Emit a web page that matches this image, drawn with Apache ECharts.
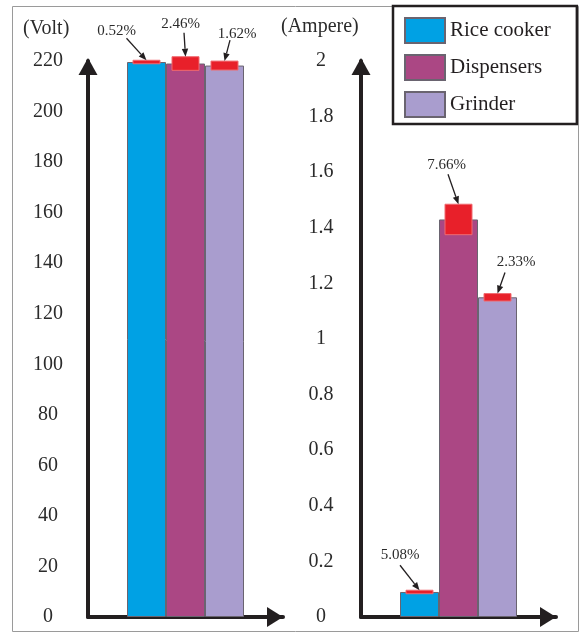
<!DOCTYPE html>
<html>
<head>
<meta charset="utf-8">
<script src="https://cdn.jsdelivr.net/npm/echarts@6/dist/echarts.min.js"></script>
<style>
html,body{margin:0;padding:0;background:#fff;}
#chart{width:581px;height:633px;}
</style>
</head>
<body>
<div id="chart"></div>
<script>
// ---- data ----
var appliances = ['Rice cooker', 'Dispensers', 'Grinder'];
var voltage = [219.6, 219.0, 218.2];          // Volt
var voltageErrPct = [0.52, 2.46, 1.62];       // %
var current = [0.09, 1.43, 1.15];             // Ampere
var currentErrPct = [5.08, 7.66, 2.33];       // %
var voltTicks = {min: 0, max: 220, interval: 20};
var ampTicks = {min: 0, max: 2, interval: 0.2};

// ---- styling / layout (not data) ----
var colors = ['#00a1e4', '#ab4784', '#a99dce'];
var FONT = 'Liberation Serif';
var TXT = '#2b2b2b';
var AX = '#231f20';
var BAR_W = 39;
// callout layout relative to the top-centre of each red box: [labelDx, labelDy, lineStartDx, lineStartDy]
var voltCallouts = [[-30, -29, -20, -22], [-5, -33, -1.5, -24], [12.5, -27, 5.5, -21]];
var ampCallouts = [[-19.5, -35, -19.5, -25], [-12, -39, -10.5, -30], [18.5, -32, 7.5, -21]];

var chart = echarts.init(document.getElementById('chart'), null, {renderer: 'canvas'});

function yAxisCfg(ticks, gridIndex) {
  return {
    type: 'value', gridIndex: gridIndex,
    min: ticks.min, max: ticks.max, interval: ticks.interval,
    splitLine: {show: false},
    axisTick: {show: false},
    axisLine: {show: true, symbol: ['none', 'triangle'], symbolSize: [19, 17], symbolOffset: [0, -5.5],
      lineStyle: {color: AX, width: 4}},
    axisLabel: {margin: 40, align: 'center', fontFamily: FONT, fontSize: 20, color: TXT,
      formatter: function (v) { return String(Math.round(v * 10) / 10); }}
  };
}
function xAxisCfg(gridIndex) {
  return {
    type: 'category', gridIndex: gridIndex, data: ['g'],
    axisTick: {show: false}, axisLabel: {show: false},
    axisLine: {show: true, symbol: ['none', 'triangle'], symbolSize: [20, 16], symbolOffset: [0, -8],
      lineStyle: {color: AX, width: 4}}
  };
}

function barSeries(values, gridIndex) {
  return appliances.map(function (name, i) {
    return {
      type: 'bar', name: name, xAxisIndex: gridIndex, yAxisIndex: gridIndex,
      data: [values[i]], barWidth: BAR_W, barGap: '0%',
      itemStyle: {color: colors[i], borderColor: '#6a6470', borderWidth: 1},
      emphasis: {disabled: true}
    };
  });
}

function errSeries(values, pcts, gridIndex, callouts) {
  var data = values.map(function (v, i) { return [0, v, pcts[i], i]; });
  return {
    type: 'custom', xAxisIndex: gridIndex, yAxisIndex: gridIndex, z: 5, silent: true,
    data: data,
    renderItem: function (params, api) {
      var v = api.value(1), pct = api.value(2), i = api.value(3);
      var c = api.coord([0, v]);
      var cx = c[0] + (i - 1) * BAR_W;
      var hVal = v * pct / 100;
      var h = Math.max(api.size([0, hVal])[1], 3.5);
      var top = c[1] - h / 2;
      var co = callouts[i];
      var sx = cx + co[2], sy = top + co[3];
      var ex = cx, ey = top;
      var ang = Math.atan2(ey - sy, ex - sx);
      var L = 8, W = 3.2;
      var bx = ex - L * Math.cos(ang), by = ey - L * Math.sin(ang);
      var px = -Math.sin(ang) * W, py = Math.cos(ang) * W;
      return {
        type: 'group',
        children: [
          {type: 'rect', shape: {x: cx - 13.5, y: top, width: 27, height: h},
            style: {fill: '#e8202a', stroke: '#f06a70', lineWidth: 1}},
          {type: 'line', shape: {x1: sx, y1: sy, x2: bx, y2: by},
            style: {stroke: AX, lineWidth: 1.3}},
          {type: 'polygon', shape: {points: [[ex, ey], [bx + px, by + py], [bx - px, by - py]]},
            style: {fill: AX}},
          {type: 'text', x: cx + co[0], y: top + co[1],
            style: {text: pct.toFixed(2) + '%', fontFamily: FONT, fontSize: 15, fill: TXT,
              align: 'center', verticalAlign: 'middle'}}
        ]
      };
    }
  };
}

var option = {
  backgroundColor: '#fff',
  animation: false,
  grid: [
    {left: 88, top: 61, width: 195, height: 556},
    {left: 361, top: 61, width: 195, height: 556}
  ],
  xAxis: [xAxisCfg(0), xAxisCfg(1)],
  yAxis: [yAxisCfg(voltTicks, 0), yAxisCfg(ampTicks, 1)],
  legend: {
    data: appliances, orient: 'vertical', left: 393, top: 6,
    icon: 'rect', itemWidth: 40, itemHeight: 25, itemGap: 10,
    padding: [11, 26, 6, 11],
    borderColor: AX, borderWidth: 2.5, backgroundColor: '#fff',
    textStyle: {fontFamily: FONT, fontSize: 21, color: AX},
    selectedMode: false
  },
  graphic: [
    {type: 'rect', z: -10, shape: {x: 12.5, y: 6.5, width: 566, height: 625},
      style: {fill: 'none', stroke: '#9a9a9a', lineWidth: 1}},
    {type: 'text', left: 47 - 24, top: 19, style: {text: '(Volt)', fontFamily: FONT, fontSize: 20, fill: TXT}},
    {type: 'text', left: 322 - 41, top: 17, style: {text: '(Ampere)', fontFamily: FONT, fontSize: 20, fill: TXT}}
  ],
  series: [].concat(
    barSeries(voltage, 0),
    barSeries(current, 1),
    [errSeries(voltage, voltageErrPct, 0, voltCallouts),
     errSeries(current, currentErrPct, 1, ampCallouts)]
  )
};
chart.setOption(option);
</script>
</body>
</html>
